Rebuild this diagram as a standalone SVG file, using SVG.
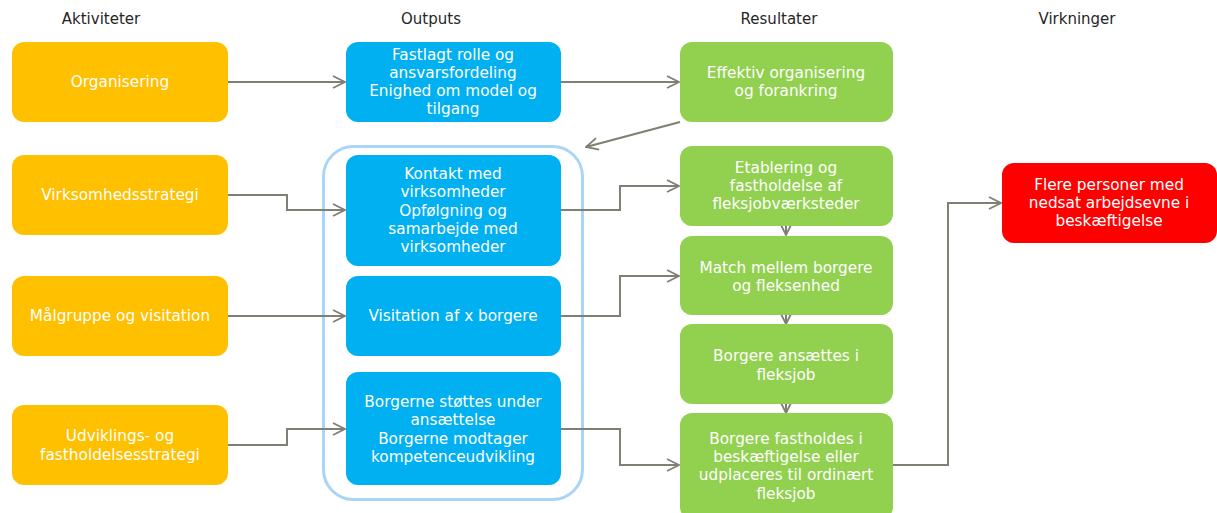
<svg xmlns="http://www.w3.org/2000/svg" width="1217" height="513" viewBox="0 0 1217 513">
  <style>
    .hdr { font-family: "DejaVu Sans", sans-serif; font-size: 15px; fill: #262626; text-anchor: middle; }
    .lbl { font-family: "DejaVu Sans", sans-serif; font-size: 15.3px; fill: #ffffff; text-anchor: middle; dominant-baseline: central; }
    .act { fill: #ffc000; }
    .out { fill: #00b0f0; }
    .res { fill: #92d050; }
    .imp { fill: #ff0000; }
    .conn { fill: none; stroke: #7f7f73; stroke-width: 2; marker-end: url(#open); }
  </style>
  <defs>
    <marker id="open" viewBox="0 0 14 14" refX="13" refY="7" markerWidth="14" markerHeight="14" markerUnits="userSpaceOnUse" orient="auto">
      <path d="M1,1 L13,7 L1,13" fill="none" stroke="#7f7f73" stroke-width="1.8"/>
    </marker>
    <marker id="small" viewBox="0 0 12 12" refX="11" refY="6" markerWidth="12" markerHeight="12" markerUnits="userSpaceOnUse" orient="auto">
      <path d="M1,1 L11,6 L1,11" fill="none" stroke="#7f7f73" stroke-width="1.8"/>
    </marker>
  </defs>
  <rect width="1217" height="513" fill="#ffffff"/>

  <!-- column headers -->
  <g id="headers">
    <text class="hdr" x="101" y="24">Aktiviteter</text>
    <text class="hdr" x="431" y="24">Outputs</text>
    <text class="hdr" x="779" y="24">Resultater</text>
    <text class="hdr" x="1077" y="24">Virkninger</text>
  </g>

  <!-- grouping frame around the three output boxes -->
  <g id="output-frame">
    <rect x="323.5" y="146.5" width="259" height="353" rx="30" fill="none" stroke="#aad5f7" stroke-width="3"/>
  </g>

  <!-- connectors -->
  <g id="connectors">
    <path class="conn" d="M228,82 H345"/>
    <path class="conn" d="M561,82 H679"/>
    <path class="conn" d="M680,122 L586,147"/>
    <path class="conn" d="M228,195 H287 V210 H345"/>
    <path class="conn" d="M228,316 H345"/>
    <path class="conn" d="M228,445 H287 V429 H345"/>
    <path class="conn" d="M561,210 H620 V186 H679"/>
    <path class="conn" d="M561,316 H620 V276 H679"/>
    <path class="conn" d="M561,429 H620 V465 H679"/>
    <path class="conn" d="M893,465 H948 V203 H1001"/>
    <path class="conn" style="marker-end:url(#small)" d="M786,222 V235"/>
    <path class="conn" style="marker-end:url(#small)" d="M786,311 V324"/>
    <path class="conn" style="marker-end:url(#small)" d="M786,400 V413"/>
  </g>

  <!-- activities -->
  <g id="organisering">
    <rect class="act" x="12" y="42" width="216" height="80" rx="12"/>
    <text class="lbl" x="120" y="82">Organisering</text>
  </g>
  <g id="virksomhedsstrategi">
    <rect class="act" x="12" y="155" width="216" height="80" rx="12"/>
    <text class="lbl" x="120" y="195">Virksomhedsstrategi</text>
  </g>
  <g id="maalgruppe">
    <rect class="act" x="12" y="276" width="216" height="80" rx="12"/>
    <text class="lbl" x="120" y="316">Målgruppe og visitation</text>
  </g>
  <g id="udvikling">
    <rect class="act" x="12" y="405" width="216" height="80" rx="12"/>
    <text class="lbl" x="120" y="436">Udviklings- og</text>
    <text class="lbl" x="120" y="455">fastholdelsesstrategi</text>
  </g>

  <!-- outputs -->
  <g id="rollefordeling">
    <rect class="out" x="346" y="42" width="215" height="80" rx="12"/>
    <text class="lbl" x="453" y="55">Fastlagt rolle og</text>
    <text class="lbl" x="453" y="73">ansvarsfordeling</text>
    <text class="lbl" x="453" y="91">Enighed om model og</text>
    <text class="lbl" x="453" y="109">tilgang</text>
  </g>
  <g id="kontakt">
    <rect class="out" x="346" y="155" width="215" height="111" rx="12"/>
    <text class="lbl" x="453" y="174">Kontakt med</text>
    <text class="lbl" x="453" y="192">virksomheder</text>
    <text class="lbl" x="453" y="211">Opfølgning og</text>
    <text class="lbl" x="453" y="229">samarbejde med</text>
    <text class="lbl" x="453" y="247">virksomheder</text>
  </g>
  <g id="visitation">
    <rect class="out" x="346" y="276" width="215" height="80" rx="12"/>
    <text class="lbl" x="453" y="316">Visitation af x borgere</text>
  </g>
  <g id="stoette">
    <rect class="out" x="346" y="372" width="215" height="113" rx="12"/>
    <text class="lbl" x="453" y="402">Borgerne støttes under</text>
    <text class="lbl" x="453" y="420">ansættelse</text>
    <text class="lbl" x="453" y="439">Borgerne modtager</text>
    <text class="lbl" x="453" y="457">kompetenceudvikling</text>
  </g>

  <!-- results -->
  <g id="effektiv">
    <rect class="res" x="680" y="42" width="213" height="80" rx="12"/>
    <text class="lbl" x="786" y="73">Effektiv organisering</text>
    <text class="lbl" x="786" y="91">og forankring</text>
  </g>
  <g id="etablering">
    <rect class="res" x="680" y="146" width="213" height="80" rx="12"/>
    <text class="lbl" x="786" y="168">Etablering og</text>
    <text class="lbl" x="786" y="186">fastholdelse af</text>
    <text class="lbl" x="786" y="204">fleksjobværksteder</text>
  </g>
  <g id="match">
    <rect class="res" x="680" y="236" width="213" height="79" rx="12"/>
    <text class="lbl" x="786" y="268">Match mellem borgere</text>
    <text class="lbl" x="786" y="286">og fleksenhed</text>
  </g>
  <g id="ansaettelse">
    <rect class="res" x="680" y="324" width="213" height="80" rx="12"/>
    <text class="lbl" x="786" y="356">Borgere ansættes i</text>
    <text class="lbl" x="786" y="375">fleksjob</text>
  </g>
  <g id="fastholdelse">
    <rect class="res" x="680" y="413" width="213" height="106" rx="12"/>
    <text class="lbl" x="786" y="439">Borgere fastholdes i</text>
    <text class="lbl" x="786" y="457">beskæftigelse eller</text>
    <text class="lbl" x="786" y="475">udplaceres til ordinært</text>
    <text class="lbl" x="786" y="494">fleksjob</text>
  </g>

  <!-- impact -->
  <g id="virkning">
    <rect class="imp" x="1002" y="163" width="215" height="80" rx="12"/>
    <text class="lbl" x="1109" y="185">Flere personer med</text>
    <text class="lbl" x="1109" y="203">nedsat arbejdsevne i</text>
    <text class="lbl" x="1109" y="221">beskæftigelse</text>
  </g>
</svg>
